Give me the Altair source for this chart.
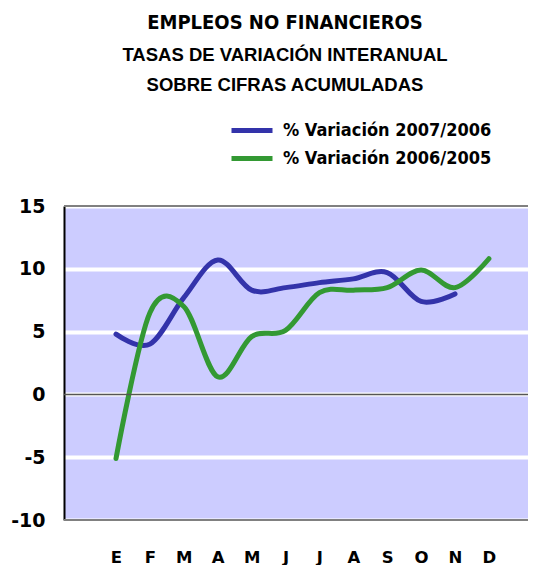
import altair as alt
import pandas as pd

months = ["E", "F", "M", "A", "M", "J", "J", "A", "S", "O", "N", "D"]
serie_2007_2006 = [4.8, 4.0, 7.7, 10.7, 8.3, 8.5, 8.9, 9.2, 9.7, 7.4, 8.0]
serie_2006_2005 = [-5.1, 6.5, 7.0, 1.4, 4.6, 5.1, 8.1, 8.3, 8.5, 9.9, 8.5, 10.8]
series_names = ["% Variación 2007/2006", "% Variación 2006/2005"]
series_colors = ["#3333AA", "#339933"]
y_ticks = [-10, -5, 0, 5, 10, 15]
border_levels = [15, -10]
zero_level = [0]

rows = []
for i, v in enumerate(serie_2007_2006):
    rows.append({"mes": i, "serie": series_names[0], "valor": v})
for i, v in enumerate(serie_2006_2005):
    rows.append({"mes": i, "serie": series_names[1], "valor": v})
df = pd.DataFrame(rows)

label_expr = "[" + ",".join(f"'{m}'" for m in months) + "][datum.value]"

x_enc = alt.X(
    "mes:Q",
    scale=alt.Scale(domain=[-1.534, 12.153], nice=False, zero=False),
    axis=alt.Axis(
        values=list(range(12)), labelExpr=label_expr, domain=False, ticks=False,
        grid=False, labelPadding=42, labelBaseline="alphabetic",
        labelFont="DejaVu Sans", labelFontWeight="bold",
        labelFontSize=16.5, labelColor="black", title=None,
    ),
)
y_scale = alt.Scale(domain=[-10, 15], nice=False)
y_enc = alt.Y(
    "valor:Q",
    scale=y_scale,
    axis=alt.Axis(
        values=y_ticks, grid=True, gridColor="white", gridWidth=4, domain=True,
        domainColor="black", domainWidth=2, ticks=False, labelPadding=19,
        labelExpr="datum.value < 0 ? '-' + abs(datum.value) : '' + datum.value",
        labelFont="DejaVu Sans", labelFontWeight="bold", labelFontSize=19,
        labelColor="black", title=None,
    ),
)

borders = alt.Chart(pd.DataFrame({"nivel": border_levels})).mark_rule(
    color="#808080", strokeWidth=2
).encode(y=alt.Y("nivel:Q", scale=y_scale))

zero = alt.Chart(pd.DataFrame({"nivel": zero_level})).mark_rule(
    color="#555555", strokeWidth=1.5
).encode(y=alt.Y("nivel:Q", scale=y_scale))

lines = alt.Chart(df).mark_line(
    interpolate="cardinal", strokeWidth=5, strokeCap="round", strokeJoin="round"
).encode(
    x=x_enc,
    y=y_enc,
    color=alt.Color(
        "serie:N",
        scale=alt.Scale(domain=series_names, range=series_colors),
        legend=alt.Legend(
            orient="none", legendX=165, legendY=-88, title=None,
            symbolType="M-1,0H3.1", symbolStrokeWidth=5, symbolSize=400,
            labelFont="DejaVu Sans Condensed", labelFontSize=18,
            labelFontWeight="bold", labelColor="black", rowPadding=5,
            labelOffset=29, labelLimit=400,
        ),
    ),
)

chart = alt.layer(lines, borders, zero).properties(
    width=464,
    height=314,
    autosize=alt.AutoSizeParams(type="none"),
    padding={"left": 56, "top": 198, "right": 0, "bottom": 45},
    title=alt.TitleParams(
        text="EMPLEOS NO FINANCIEROS",
        subtitle=["TASAS DE VARIACIÓN INTERANUAL", "SOBRE CIFRAS ACUMULADAS"],
        font="DejaVu Sans Condensed", fontSize=20, fontWeight="bold", color="black",
        subtitleFont="Liberation Sans", subtitleFontSize=18.5, subtitleFontWeight="bold",
        subtitleColor="black", subtitlePadding=13, subtitleLineHeight=30,
        anchor="middle", frame="group", dx=-11, dy=-20,
    ),
).configure_view(fill="#CCCCFF", stroke=None)

chart.save("out.html", embed_options={"renderer": "svg", "actions": False})
